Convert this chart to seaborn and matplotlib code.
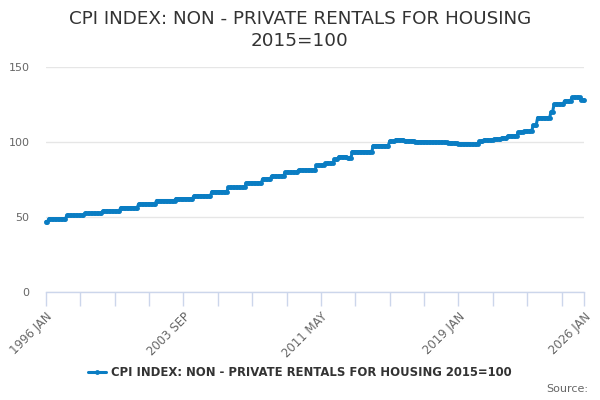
import numpy as np
import pandas as pd
import seaborn as sns
import matplotlib
matplotlib.use("Agg")
import matplotlib.pyplot as plt

# step levels of the index (month the level starts)
step_start = ["1996-01", "1996-03", "1997-03", "1998-03", "1999-03", "2000-03",
              "2001-03", "2002-03", "2003-04", "2004-04", "2005-04", "2006-03",
              "2007-03", "2008-02", "2008-08", "2009-05", "2010-02", "2011-02",
              "2011-08", "2012-02", "2012-05", "2012-11", "2013-02", "2014-04",
              "2015-03", "2015-07", "2016-01", "2016-08", "2017-04", "2018-01",
              "2018-06", "2019-01", "2019-09", "2020-03", "2020-06", "2021-01",
              "2021-06", "2021-10", "2022-05", "2022-09", "2023-03", "2023-06",
              "2024-03", "2024-05", "2024-12", "2025-05", "2025-11"]
step_value = [47.0, 48.8, 51.1, 52.4, 54.0, 56.2,
              58.7, 61.0, 62.3, 64.0, 66.9, 69.7,
              72.7, 75.4, 77.2, 79.9, 81.3, 84.5,
              85.8, 88.6, 90.2, 89.3, 93.6, 97.6,
              100.6, 101.6, 100.8, 100.3, 100.0, 99.8,
              99.3, 99.0, 98.5, 100.5, 101.3, 102.0,
              102.8, 104.0, 106.5, 107.2, 111.3, 116.3,
              120.2, 125.3, 127.4, 129.8, 128.0]

first_month = "1996-01"
last_month = "2026-01"
tick_step = 23
label_every = 4
y_ticks = [0, 50, 100, 150]

series_name = "CPI INDEX: NON - PRIVATE RENTALS FOR HOUSING 2015=100"
title = "CPI INDEX: NON - PRIVATE RENTALS FOR HOUSING\n2015=100"

months = pd.period_range(first_month, last_month, freq="M")
steps = pd.Series(step_value, index=pd.PeriodIndex(step_start, freq="M"))
values = steps.reindex(months).ffill()
df = pd.DataFrame({"pos": np.arange(len(months)), "value": values.values,
                   "label": [m.strftime("%Y %b").upper() for m in months]})

sns.set_style("white")
plt.rcParams['font.family'] = ['DejaVu Sans']

fig = plt.figure(figsize=(6, 4), dpi=100)
ax = fig.add_axes([46 / 600, 108 / 400, 538 / 600, 225 / 400])

line_color = "#0a7dc3"
sns.lineplot(data=df, x="pos", y="value", ax=ax, color=line_color, linewidth=2.2,
             marker="o", markersize=3.5, markeredgewidth=0, label=series_name,
             clip_on=False, zorder=3)

ax.set_xlim(0, len(months) - 1)
ax.set_ylim(y_ticks[0], y_ticks[-1])
ax.set_yticks(y_ticks)
ax.yaxis.grid(True, color="#e6e6e6", linewidth=1)
ax.tick_params(axis="y", length=0, labelsize=8, labelcolor="#666666", pad=12)

xt = list(range(0, len(months), tick_step))
if xt[-1] != len(months) - 1:
    xt.append(len(months) - 1)
xl = []
for i, p in enumerate(xt):
    if i % label_every == 0 or p == len(months) - 1:
        xl.append(df["label"][p])
    else:
        xl.append("")
ax.set_xticks(xt)
ax.set_xticklabels(xl, rotation=45, ha="right", va="top", rotation_mode="anchor")
ax.tick_params(axis="x", length=10, width=1, color="#ccd6eb", labelsize=8.4,
               labelcolor="#666666", pad=3, direction="out")
ax.tick_params(axis="x", bottom=True)

for s in ["top", "right", "left"]:
    ax.spines[s].set_visible(False)
ax.spines["bottom"].set_color("#ccd6eb")
ax.spines["bottom"].set_linewidth(1)
ax.set_xlabel("")
ax.set_ylabel("")

fig.suptitle(title, y=0.975, fontsize=13.2, color="#333333", linespacing=1.3)

handles, labels = ax.get_legend_handles_labels()
ax.legend_.remove()
leg = fig.legend(handles, labels, loc="center", bbox_to_anchor=(0.5, 1 - 373 / 400),
                 frameon=False, handlelength=1.5, handletextpad=0.5,
                 prop={"weight": "bold", "size": 8.4})
for t in leg.get_texts():
    t.set_color("#333333")

fig.text(588 / 600, 1 - 389 / 400, "Source:", ha="right", va="center",
         fontsize=8, color="#666666")

fig.savefig("out.png", dpi=100)
